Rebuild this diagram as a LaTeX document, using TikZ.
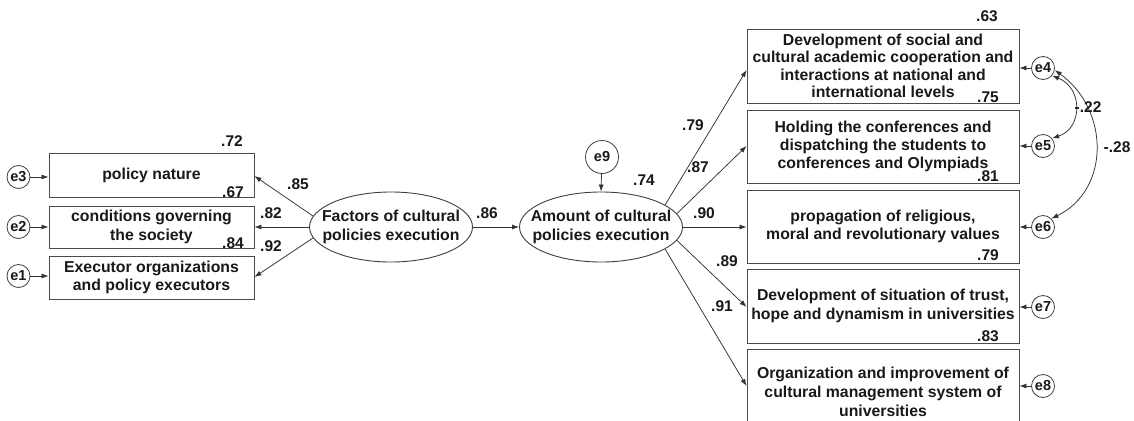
\documentclass[tikz,border=0pt]{standalone}
\usepackage{fontspec}
\setmainfont{Liberation Sans}
\usetikzlibrary{arrows.meta,shapes.geometric}
\begin{document}
\begin{tikzpicture}[x=1pt,y=-1pt,
  every node/.style={text=black!90},
  txt/.style={font=\bfseries\fontsize{15.8}{18.5}\selectfont, align=center, inner sep=0pt},
  obsbox/.style={draw=black!70, line width=0.9pt, rectangle, inner sep=0pt},
  errc/.style={circle, draw=black!75, line width=0.8pt, inner sep=0pt, minimum size=23pt, font=\bfseries\fontsize{14.5}{14.5}\selectfont},
  lat/.style={ellipse, draw=black!75, line width=0.9pt, minimum width=163pt, minimum height=70pt, inner sep=0pt},
  arr/.style={draw=black!80, line width=0.75pt, -{Latex[length=7pt,width=5pt]}},
  cov/.style={draw=black!80, line width=0.75pt, {Latex[length=7pt,width=5pt]}-{Latex[length=7pt,width=5pt]}},
  coef/.style={font=\bfseries\fontsize{15.5}{15.5}\selectfont, inner sep=0pt}
]
\useasboundingbox (0,0) rectangle (1134,420);
\fill[white] (0,0) rectangle (1134,420);

% left observed boxes
\node[obsbox, minimum width=205pt, minimum height=44pt] (b1) at (151.5,175) {};
\node[txt] (b1t) at (b1) {policy nature};
\node[obsbox, minimum width=205pt, minimum height=42pt] (b2) at (151.5,227) {};
\node[txt] (b2t) at (b2) {conditions governing\\the society};
\node[obsbox, minimum width=205pt, minimum height=43pt] (b3) at (151.5,277.5) {};
\node[txt] (b3t) at (b3) {Executor organizations\\and policy executors};

% left errors
\node[errc] (e3) at (18.5,177) {e3};
\node[errc] (e2) at (18.5,227) {e2};
\node[errc] (e1) at (18.5,276) {e1};
\draw[arr] (e3) -- (e3 -| b1.west);
\draw[arr] (e2) -- (e2 -| b2.west);
\draw[arr] (e1) -- (e1 -| b3.west);

% latent variables
\node[lat] (fac) at (391,227) {};
\node[txt, font=\bfseries\fontsize{15.8}{19}\selectfont] (fact) at (fac) {Factors of cultural\\policies execution};
\node[lat] (amt) at (601,227) {};
\node[txt, font=\bfseries\fontsize{15.8}{19}\selectfont] (amtt) at (amt) {Amount of cultural\\policies execution};
\node[errc, minimum size=33pt] (e9) at (602,157) {e9};
\draw[arr] (e9) -- (amt.north);
\draw[arr] (fac.east) -- (amt.west);

\draw[arr] (fac.172) -- (b1.east |- 0,176);
\draw[arr] (fac.west) -- (b2.east);
\draw[arr] (fac.188) -- (b3.east |- 0,277);

% right observed boxes
\node[obsbox, minimum width=272pt, minimum height=74pt] (bA) at (883,66) {};
\node[txt, font=\bfseries\fontsize{15.8}{17.4}\selectfont] (bAt) at (bA) {Development of social and\\cultural academic cooperation and\\interactions at national and\\international levels};
\node[obsbox, minimum width=272pt, minimum height=73pt] (bB) at (883,146.5) {};
\node[txt, font=\bfseries\fontsize{15.8}{17.6}\selectfont] (bBt) at (bB) {Holding the conferences and\\dispatching the students to\\conferences and Olympiads};
\node[obsbox, minimum width=272pt, minimum height=73pt] (bC) at (883,226.5) {};
\node[txt] (bCt) at (bC) {propagation of religious,\\moral and revolutionary values};
\node[obsbox, minimum width=272pt, minimum height=74pt] (bD) at (883,306) {};
\node[txt] (bDt) at (bD) {Development of situation of trust,\\hope and dynamism in universities};
\node[obsbox, minimum width=272pt, minimum height=86pt] (bE) at (883,392) {};
\node[txt, font=\bfseries\fontsize{15.8}{19}\selectfont] (bEt) at (883,392) {Organization and improvement of\\cultural management system of\\universities};

% right errors
\node[errc] (e4) at (1043,68) {e4};
\node[errc] (e5) at (1043,146) {e5};
\node[errc] (e6) at (1043,227) {e6};
\node[errc] (e7) at (1043,307) {e7};
\node[errc] (e8) at (1043,386) {e8};
\draw[arr] (e4) -- (e4 -| bA.east);
\draw[arr] (e5) -- (e5 -| bB.east);
\draw[arr] (e6) -- (e6 -| bC.east);
\draw[arr] (e7) -- (e7 -| bD.east);
\draw[arr] (e8) -- (e8 -| bE.east);

\draw[arr] (amt.19) -- (bA.west |- 0,70);
\draw[arr] (amt.10) -- (bB.west |- e5);
\draw[arr] (amt.east) -- (bC.west |- e6);
\draw[arr] (amt.-10) -- (bD.west |- e7);
\draw[arr] (amt.-19) -- (bE.west |- e8);

% covariances
\draw[cov] (e4.-40) .. controls (1083,88) and (1083,128) .. (e5.40);
\draw[cov] (e4.-10) .. controls (1110,110) and (1110,190) .. (e6.45);

% coefficients
\node[coef] (c72) at (232,141) {.72};
\node[coef] (c67) at (233,192) {.67};
\node[coef] (c84) at (233,243) {.84};
\node[coef] (c85) at (298,184) {.85};
\node[coef] (c82) at (271,213) {.82};
\node[coef] (c92) at (271,246) {.92};
\node[coef] (c86) at (487,213) {.86};
\node[coef] (c74) at (644,180) {.74};
\node[coef] (c79a) at (693,125) {.79};
\node[coef] (c87) at (698,167) {.87};
\node[coef] (c90) at (704,213) {.90};
\node[coef] (c89) at (727,261) {.89};
\node[coef] (c91) at (722,306) {.91};
\node[coef] (c63) at (987,16) {.63};
\node[coef] (c75) at (988,97) {.75};
\node[coef] (c81) at (988,176) {.81};
\node[coef] (c79b) at (988,255) {.79};
\node[coef] (c83) at (988,336) {.83};
\node[coef] (cm22) at (1088,107) {-.22};
\node[coef] (cm28) at (1117,147) {-.28};
\end{tikzpicture}
\end{document}
